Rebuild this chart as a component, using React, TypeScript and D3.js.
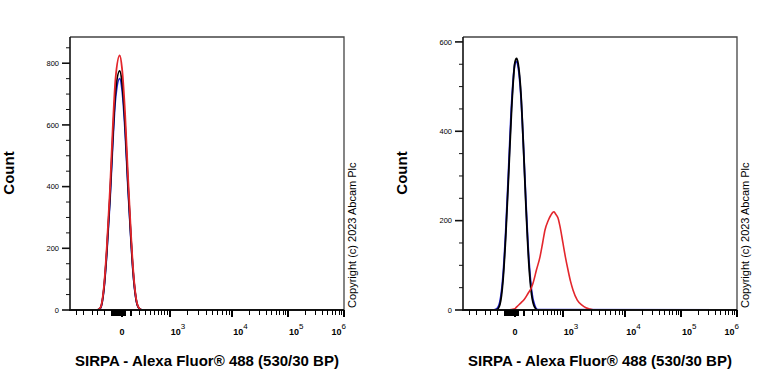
import React, { useRef, useEffect } from 'react';
import * as d3 from 'd3';

// histogram bins (fluorescence) and counts, left panel
const leftBins = [-1000, -300, -250, -200, -160, -120, -90, -60, -20, 0, 30, 60, 90, 120, 160, 200, 250, 1000000];
const leftBlue = [0, 0, 6, 66, 186, 360, 535, 686, 750, 716, 580, 398, 248, 127, 37, 7, 0, 0];
const leftBlack = [0, 0, 7, 68, 192, 372, 552, 708, 775, 738, 598, 410, 255, 130, 38, 7, 0, 0];
const leftRed = [0, 0, 8, 74, 206, 396, 586, 750, 825, 784, 635, 437, 272, 140, 41, 8, 0, 0];

// right panel
const rightBins = [-1000, -250, -200, -160, -120, -90, -60, -30, 0, 15, 30, 60, 90, 120, 160, 200, 250, 300, 1000000];
const rightBlue = [0, 0, 3, 18, 78, 175, 312, 462, 552, 556, 545, 478, 362, 240, 112, 42, 10, 1, 0];
const rightBlack = [0, 0, 1, 12, 68, 163, 298, 450, 555, 563, 552, 484, 360, 231, 101, 34, 6, 0, 0];
const rightRedBins = [-1000, -80, 0, 16, 60, 100, 147, 190, 221, 280, 346, 400, 453, 534, 600, 650, 693, 750, 822, 900, 1006, 1120, 1243, 1380, 1522, 1800, 2154, 2500, 2900, 3500, 1000000];
const rightRed = [0, 0, 3, 7, 16, 24, 37, 48, 60, 90, 119, 150, 179, 201, 212, 218, 220, 214, 206, 185, 150, 118, 90, 64, 45, 22, 11, 5, 2, 0, 0];

// axes
const xMajor = [0, 1e3, 1e4, 1e5, 1e6];
const xExponents = ['', '3', '4', '5', '6'];
const xMinor = [-800, -600, -400, -300, -200,
  -100, -90, -80, -70, -60, -50, -40, -30, -20, -10, 10, 20, 30,
  100, 200, 300, 400, 500, 600, 700, 800, 900,
  2e3, 3e3, 4e3, 5e3, 6e3, 7e3, 8e3, 9e3,
  2e4, 3e4, 4e4, 5e4, 6e4, 7e4, 8e4, 9e4,
  2e5, 3e5, 4e5, 5e5, 6e5, 7e5, 8e5, 9e5];
const leftYMax = 885;
const rightYMax = 611;
const xTitle = 'SIRPA - Alexa Fluor® 488 (530/30 BP)';
const copyright = 'Copyright (c) 2023 Abcam Plc';

const RED = '#e3262c';
const BLUE = '#2424d8';
const BLACK = '#000';

const TOP = 37;
const BOTTOM = 310;
const W = 274;

// logicle-like transform
const logic = (v: number) => Math.sign(v) * Math.log10(1 + Math.abs(v) / 300);

const drawPanel = (svg: any, left: number, yMax: number, series: any[]) => {
  const g = svg.append('g');
  const font = 'Liberation Sans, Arial, sans-serif';

  const x = d3.scaleLinear()
    .domain([-1000, 0, 1e3, 1e4, 1e5, 1e6].map(logic))
    .range([0, 52, 99.8, 162.3, 218, 274].map(p => left + p));
  const y = d3.scaleLinear().domain([0, yMax]).range([BOTTOM, TOP]);
  const px = (v: number) => x(logic(v));

  // frame top + right
  g.append('path')
    .attr('d', `M${left},${TOP}H${left + W}V${BOTTOM}`)
    .attr('fill', 'none').attr('stroke', '#444').attr('stroke-width', 1.3);

  // curves
  series.forEach(s => {
    const pts = s.bins.map((b: number, i: number) => [b, s.counts[i]]);
    g.append('path')
      .attr('d', d3.line().x((d: any) => px(d[0])).y((d: any) => y(d[1])).curve(d3.curveMonotoneX)(pts))
      .attr('fill', 'none')
      .attr('stroke', s.color)
      .attr('stroke-width', s.width);
  });

  // y axis
  g.append('line').attr('x1', left).attr('x2', left).attr('y1', TOP).attr('y2', BOTTOM + 1)
    .attr('stroke', '#111').attr('stroke-width', 1.6);
  d3.range(0, yMax, 50).forEach(v => {
    const major = v % 200 === 0;
    g.append('line')
      .attr('x1', left - (major ? 8 : 4)).attr('x2', left)
      .attr('y1', y(v)).attr('y2', y(v))
      .attr('stroke', '#111').attr('stroke-width', major ? 1.6 : 1);
    if (major) {
      g.append('text')
        .attr('x', left - 11).attr('y', y(v)).attr('dy', '0.35em')
        .attr('text-anchor', 'end')
        .attr('font-family', font).attr('font-size', 7.5)
        .text(v);
    }
  });

  // x axis
  const ticks = g.append('g').attr('shape-rendering', 'crispEdges');
  ticks.append('line').attr('x1', left - 1).attr('x2', left + W).attr('y1', BOTTOM).attr('y2', BOTTOM)
    .attr('stroke', '#111').attr('stroke-width', 2);
  xMinor.forEach(v => {
    const near = Math.abs(v) <= 100;
    const xx = Math.round(px(v));
    ticks.append('line')
      .attr('x1', xx).attr('x2', xx)
      .attr('y1', BOTTOM).attr('y2', BOTTOM + (near ? 6 : 5))
      .attr('stroke', '#000').attr('stroke-width', near ? 2 : 1);
  });
  xMajor.forEach((v, i) => {
    const xx = px(v);
    ticks.append('line')
      .attr('x1', Math.round(xx)).attr('x2', Math.round(xx))
      .attr('y1', BOTTOM).attr('y2', BOTTOM + 7)
      .attr('stroke', '#000').attr('stroke-width', 2);
    if (i === 0) {
      g.append('text')
        .attr('x', xx).attr('y', 335)
        .attr('text-anchor', 'middle')
        .attr('font-family', font).attr('font-size', 9).attr('font-weight', 'bold')
        .text('0');
    } else {
      const last = i === xMajor.length - 1;
      const t = g.append('text')
        .attr('x', last ? xx + 2 : xx + 1).attr('y', 335)
        .attr('text-anchor', last ? 'end' : 'start')
        .attr('font-family', font).attr('font-size', 9).attr('font-weight', 'bold');
      t.append('tspan').text('10');
      t.append('tspan').attr('dy', -6).attr('font-size', 8).attr('font-weight', 'normal').text(xExponents[i]);
    }
  });

  // titles
  g.append('text')
    .attr('transform', `translate(${left - 56},173) rotate(-90)`)
    .attr('text-anchor', 'middle')
    .attr('font-family', font).attr('font-size', 15).attr('font-weight', 'bold')
    .text('Count');
  g.append('text')
    .attr('x', left + W / 2).attr('y', 366)
    .attr('text-anchor', 'middle')
    .attr('font-family', font).attr('font-size', 15).attr('font-weight', 'bold')
    .text(xTitle);
  g.append('text')
    .attr('transform', `translate(${left + W + 12},308) rotate(-90)`)
    .attr('font-family', font).attr('font-size', 11)
    .text(copyright);
};

const App = () => {
  const ref = useRef(null);

  useEffect(() => {
    if (!ref.current) return;
    const svg = d3.select(ref.current);
    svg.selectAll('*').remove();

    drawPanel(svg, 70, leftYMax, [
      { bins: leftBins, counts: leftBlue, color: BLUE, width: 1.8 },
      { bins: leftBins, counts: leftBlack, color: BLACK, width: 1.8 },
      { bins: leftBins, counts: leftRed, color: RED, width: 1.8 },
    ]);
    drawPanel(svg, 463, rightYMax, [
      { bins: rightBins, counts: rightBlue, color: BLUE, width: 1.8 },
      { bins: rightBins, counts: rightBlack, color: BLACK, width: 1.8 },
      { bins: rightRedBins, counts: rightRed, color: RED, width: 1.6 },
    ]);
  }, []);

  return (
    <svg ref={ref} width={768} height={384}
      style={{ position: 'absolute', left: 0, top: 0, background: '#fff' }} />
  );
};

export default App;
